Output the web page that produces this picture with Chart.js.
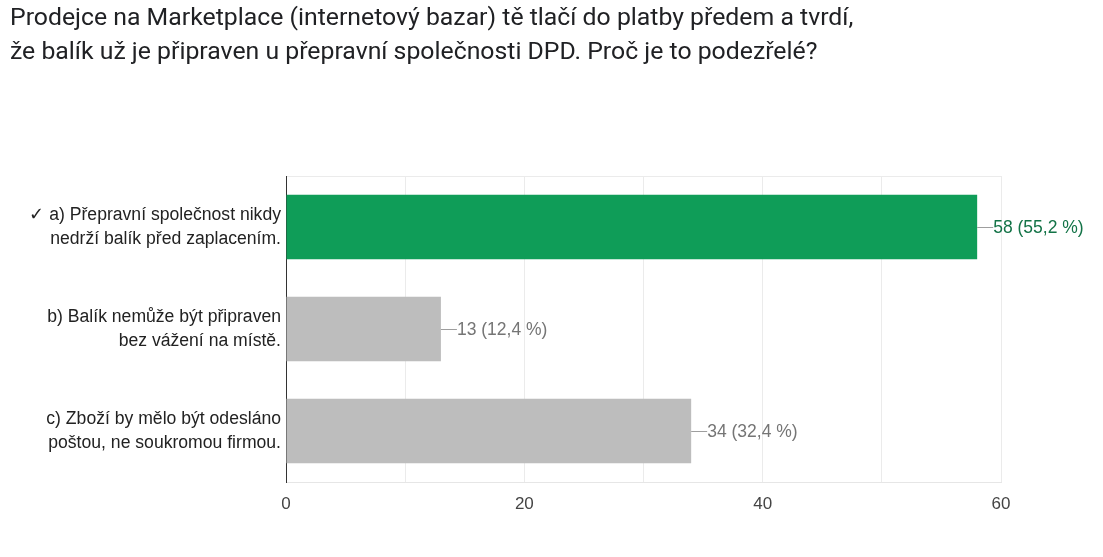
<!DOCTYPE html>
<html>
<head>
<meta charset="utf-8">
<script src="https://cdn.jsdelivr.net/npm/chart.js@4/dist/chart.umd.min.js"></script>
<style>
  body { margin: 0; background: #fff; }
  #wrap { position: relative; width: 1103px; height: 557px; }
  #title {
    position: absolute; left: 10px; top: 0px;
    font-family: Roboto, Arial, sans-serif;
    font-size: 24.8px; line-height: 34px; color: #202124;
  }
  #myChart { position: absolute; left: 0; top: 0; }
</style>
</head>
<body>
<div id="wrap">
  <canvas id="myChart" width="1103" height="557"></canvas>
  <div id="title">Prodejce na Marketplace (internetový bazar) tě tlačí do platby předem a tvrdí,<br>že balík už je připraven u přepravní společnosti DPD. Proč je to podezřelé?</div>
</div>
<script>
// data
var categories = [
  ["✓ a) Přepravní společnost nikdy", "nedrží balík před zaplacením."],
  ["b) Balík nemůže být připraven", "bez vážení na místě."],
  ["c) Zboží by mělo být odesláno", "poštou, ne soukromou firmou."]
];
var counts = [58, 13, 34];
var percents = ["55,2", "12,4", "32,4"];
var barColors = ["#0f9d58", "#bdbdbd", "#bdbdbd"];
var labelColors = ["#137347", "#757575", "#757575"];
var xTicks = [0, 20, 40, 60];

var font = "Liberation Sans, Arial, sans-serif";

// value labels with a short leader line
var valueLabels = {
  id: "valueLabels",
  afterDatasetsDraw: function (chart) {
    var ctx = chart.ctx;
    var meta = chart.getDatasetMeta(0);
    ctx.save();
    ctx.font = "17.5px " + font;
    ctx.textBaseline = "middle";
    meta.data.forEach(function (bar, i) {
      var x = bar.x;
      var y = bar.y;
      ctx.strokeStyle = "#9e9e9e";
      ctx.lineWidth = 1;
      ctx.beginPath();
      ctx.moveTo(x, y + 0.5);
      ctx.lineTo(x + 16, y + 0.5);
      ctx.stroke();
      ctx.fillStyle = labelColors[i];
      ctx.fillText(counts[i] + " (" + percents[i] + " %)", x + 16, y + 1);
    });
    ctx.restore();
  }
};

var ctx = document.getElementById("myChart");

var chart = new Chart(ctx, {
  type: "bar",
  data: {
    labels: categories,
    datasets: [
      {
        data: counts,
        backgroundColor: barColors,
        borderWidth: 0,
        categoryPercentage: 1,
        barPercentage: 0.63
      }
    ]
  },
  options: {
    indexAxis: "y",
    responsive: false,
    animation: false,
    layout: { padding: { top: 176, right: 102, left: 0, bottom: 0 } },
    plugins: {
      legend: { display: false },
      tooltip: { enabled: false }
    },
    scales: {
      x: {
        min: 0,
        max: 60,
        afterBuildTicks: function (scale) {
          // grid every 10, labels only on xTicks
          var t = [];
          for (var v = 0; v <= 60; v += 10) t.push({ value: v });
          scale.ticks = t;
        },
        afterFit: function (scale) { scale.height = 75; },
        grid: { color: "#ebebeb", drawTicks: false },
        border: { color: "#e6e6e6" },
        ticks: {
          padding: 12,
          color: "#444",
          font: { family: font, size: 17 },
          autoSkip: false,
          maxRotation: 0,
          callback: function (v) { return xTicks.indexOf(v) >= 0 ? v : ""; }
        }
      },
      y: {
        afterFit: function (scale) { scale.width = 286; },
        grid: {
          drawTicks: false,
          color: function (c) {
            return (c.index === 0 || c.index === categories.length) ? "#ebebeb" : "rgba(0,0,0,0)";
          }
        },
        border: { color: "#333", width: 1 },
        ticks: {
          padding: 5,
          color: "#222",
          font: { family: font, size: 17.6, lineHeight: 1.35 }
        }
      }
    }
  },
  plugins: [valueLabels]
});
</script>
</body>
</html>
